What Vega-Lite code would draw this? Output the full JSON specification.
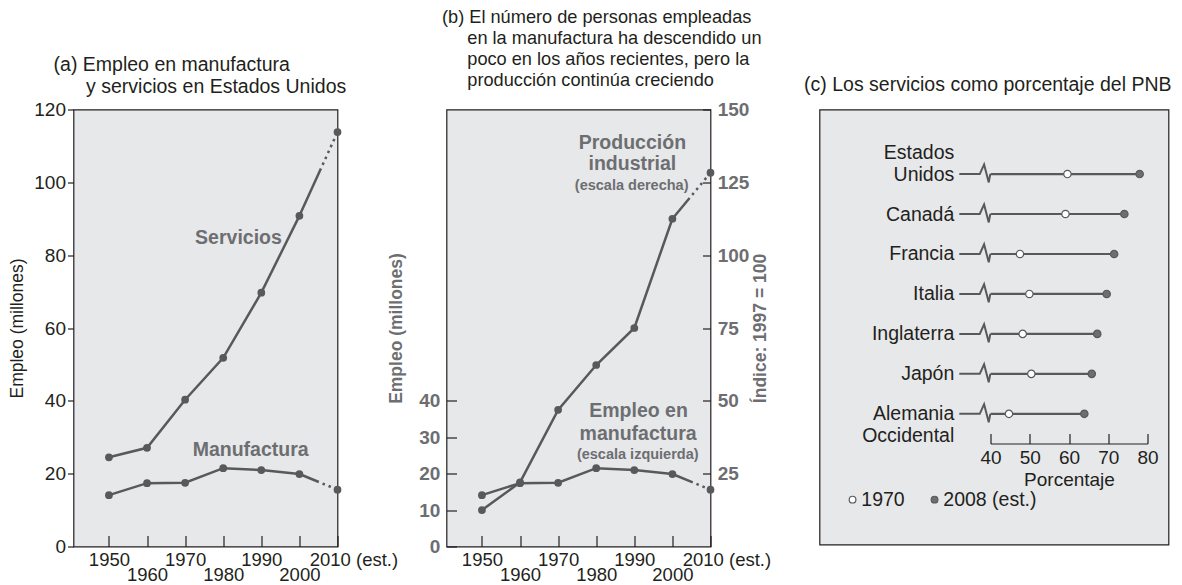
{
  "$schema": "https://vega.github.io/schema/vega-lite/v6.json",
  "background": "white",
  "padding": {"left": 7.5, "top": 7.5, "right": 5, "bottom": 0},
  "bounds": "flush",
  "spacing": 109,
  "config": {
    "font": "Liberation Sans",
    "view": {"fill": "#e7e8ea", "stroke": "#231f20", "strokeWidth": 1.2},
    "axis": {"grid": false, "domain": false, "labelFont": "Liberation Sans", "titleFont": "Liberation Sans", "labelColor": "#231f20", "titleColor": "#231f20", "tickColor": "#231f20", "labelFontSize": 19, "titleFontSize": 17.5, "titleFontWeight": "normal", "tickWidth": 1.2},
    "title": {"font": "Liberation Sans", "fontSize": 19.5, "fontWeight": "normal", "color": "#231f20", "anchor": "start", "frame": "group", "lineHeight": 22},
    "text": {"font": "Liberation Sans"}
  },
  "datasets": {
    "series": [
      {"serie": "Servicios", "anio": 1950, "valor": 24.5},
      {"serie": "Servicios", "anio": 1960, "valor": 27.1},
      {"serie": "Servicios", "anio": 1970, "valor": 40.3},
      {"serie": "Servicios", "anio": 1980, "valor": 51.8},
      {"serie": "Servicios", "anio": 1990, "valor": 69.7},
      {"serie": "Servicios", "anio": 2000, "valor": 90.8},
      {"serie": "Servicios", "anio": 2010, "valor": 113.8},
      {"serie": "Manufactura", "anio": 1950, "valor": 14.1},
      {"serie": "Manufactura", "anio": 1960, "valor": 17.4},
      {"serie": "Manufactura", "anio": 1970, "valor": 17.5},
      {"serie": "Manufactura", "anio": 1980, "valor": 21.5},
      {"serie": "Manufactura", "anio": 1990, "valor": 21.0},
      {"serie": "Manufactura", "anio": 2000, "valor": 19.9},
      {"serie": "Manufactura", "anio": 2010, "valor": 15.6},
      {"serie": "Producción", "anio": 1950, "valor": 12.5},
      {"serie": "Producción", "anio": 1960, "valor": 22.0},
      {"serie": "Producción", "anio": 1970, "valor": 46.9},
      {"serie": "Producción", "anio": 1980, "valor": 62.3},
      {"serie": "Producción", "anio": 1990, "valor": 75.0},
      {"serie": "Producción", "anio": 2000, "valor": 112.5},
      {"serie": "Producción", "anio": 2010, "valor": 128.3}
    ],
    "notas_a": [
      {"texto": "Servicios", "anio": 1984, "valor": 84.7},
      {"texto": "Manufactura", "anio": 1987.2, "valor": 26.6}
    ],
    "notas_b": [
      {"texto": "Producción", "anio": 1989.5, "valor": 110.9, "tipo": "principal"},
      {"texto": "industrial", "anio": 1989.5, "valor": 104.9, "tipo": "principal"},
      {"texto": "(escala derecha)", "anio": 1989.3, "valor": 99.1, "tipo": "nota"},
      {"texto": "Empleo en", "anio": 1991.1, "valor": 37.1, "tipo": "principal"},
      {"texto": "manufactura", "anio": 1991.0, "valor": 30.8, "tipo": "principal"},
      {"texto": "(escala izquierda)", "anio": 1990.9, "valor": 25.1, "tipo": "nota"}
    ],
    "pnb": [
      {"pais": "Estados Unidos", "serie": "1970", "valor": 59.6},
      {"pais": "Estados Unidos", "serie": "2008 (est.)", "valor": 78.0},
      {"pais": "Canadá", "serie": "1970", "valor": 59.1},
      {"pais": "Canadá", "serie": "2008 (est.)", "valor": 74.1},
      {"pais": "Francia", "serie": "1970", "valor": 47.5},
      {"pais": "Francia", "serie": "2008 (est.)", "valor": 71.5},
      {"pais": "Italia", "serie": "1970", "valor": 49.9},
      {"pais": "Italia", "serie": "2008 (est.)", "valor": 69.6},
      {"pais": "Inglaterra", "serie": "1970", "valor": 48.2},
      {"pais": "Inglaterra", "serie": "2008 (est.)", "valor": 67.2},
      {"pais": "Japón", "serie": "1970", "valor": 50.4},
      {"pais": "Japón", "serie": "2008 (est.)", "valor": 65.8},
      {"pais": "Alemania Occidental", "serie": "1970", "valor": 44.7},
      {"pais": "Alemania Occidental", "serie": "2008 (est.)", "valor": 63.9}
    ]
  },
  "hconcat": [
    {
      "width": 264,
      "height": 437,
      "title": {"text": ["(a) Empleo en manufactura", "\u200b\u00a0\u00a0\u00a0\u00a0\u00a0\u00a0y servicios en Estados Unidos"], "dx": -19.9, "offset": 3.5},
      "encoding": {
        "x": {"field": "anio", "type": "quantitative", "scale": {"domain": [1940.7, 2010], "nice": false, "zero": false},
          "axis": {"values": [1950, 1960, 1970, 1980, 1990, 2000, 2010], "title": null, "format": "d", "tickSize": -11, "labelPadding": 15, "labelOverlap": false, "labelFlush": false, "labelBound": false, "labelBaseline": "top", "labelFontSize": 18.5, "labelLineHeight": 15,
            "labelExpr": "datum.value % 20 == 0 ? ['', datum.label] : (datum.value == 2010 ? '2010 (est.)' : datum.label)",
            "labelAlign": {"condition": {"test": "datum.value == 2010", "value": "left"}, "value": "center"},
            "labelOffset": {"condition": {"test": "datum.value == 2010", "value": -28.3}, "value": 0}}},
        "y": {"field": "valor", "type": "quantitative", "scale": {"domain": [0, 120], "nice": false},
          "axis": {"values": [0, 20, 40, 60, 80, 100, 120], "title": "Empleo (millones)", "tickSize": 6, "labelPadding": 2, "titlePadding": 7.5}}
      },
      "layer": [
        {"data": {"name": "series"}, "transform": [{"filter": "datum.serie != 'Producción' && datum.anio <= 2000"}],
          "mark": {"type": "line", "color": "#58595b", "strokeWidth": 2.5}, "encoding": {"detail": {"field": "serie", "type": "nominal"}}},
        {"data": {"name": "series"}, "transform": [{"filter": "datum.serie == 'Servicios' && datum.anio >= 2000"}],
          "mark": {"type": "line", "color": "#58595b", "strokeWidth": 2.5, "strokeDash": [52, 4, 2.5, 4, 2.5, 4, 2.5, 4, 2.5, 4, 2.5, 4, 2.5, 4, 2.5, 4, 2.5, 4]}},
        {"data": {"name": "series"}, "transform": [{"filter": "datum.serie == 'Manufactura' && datum.anio >= 2000"}],
          "mark": {"type": "line", "color": "#58595b", "strokeWidth": 2.5, "strokeDash": [21, 4, 2.5, 4, 2.5, 4, 2.5, 4, 2.5, 4, 2.5, 4]}},
        {"data": {"name": "series"}, "transform": [{"filter": "datum.serie != 'Producción'"}],
          "mark": {"type": "point", "filled": true, "size": 60, "color": "#58595b", "opacity": 1}},
        {"data": {"name": "notas_a"}, "mark": {"type": "text", "fontSize": 19.5, "fontWeight": "bold", "color": "#6d6e71", "align": "center", "baseline": "middle"},
          "encoding": {"text": {"field": "texto", "type": "nominal"}}}
      ]
    },
    {
      "width": 264,
      "height": 437,
      "title": {"text": ["(b) El número de personas empleadas", "\u200b\u00a0\u00a0\u00a0\u00a0\u00a0en la manufactura ha descendido un", "\u200b\u00a0\u00a0\u00a0\u00a0\u00a0poco en los años recientes, pero la", "\u200b\u00a0\u00a0\u00a0\u00a0\u00a0producción continúa creciendo"], "fontSize": 18.2, "lineHeight": 21, "dx": -4.5, "offset": 10},
      "encoding": {
        "x": {"field": "anio", "type": "quantitative", "scale": {"domain": [1940.7, 2010], "nice": false, "zero": false},
          "axis": {"values": [1950, 1960, 1970, 1980, 1990, 2000, 2010], "title": null, "format": "d", "tickSize": -11, "labelPadding": 15, "labelOverlap": false, "labelFlush": false, "labelBound": false, "labelBaseline": "top", "labelFontSize": 18.5, "labelLineHeight": 15,
            "labelExpr": "datum.value % 20 == 0 ? ['', datum.label] : (datum.value == 2010 ? '2010 (est.)' : datum.label)",
            "labelAlign": {"condition": {"test": "datum.value == 2010", "value": "left"}, "value": "center"},
            "labelOffset": {"condition": {"test": "datum.value == 2010", "value": -28.3}, "value": 0}}}
      },
      "layer": [
        {
          "encoding": {"y": {"field": "valor", "type": "quantitative", "scale": {"domain": [0, 120], "nice": false},
            "axis": {"orient": "left", "values": [0, 10, 20, 30, 40], "title": "Empleo (millones)", "titleFontWeight": "bold", "titleColor": "#6d6e71", "labelColor": "#6d6e71", "labelFontWeight": "bold", "labelFontSize": 19, "tickSize": -10, "labelPadding": 16.7, "titlePadding": 13}}},
          "layer": [
            {"data": {"name": "series"}, "transform": [{"filter": "datum.serie == 'Manufactura' && datum.anio <= 2000"}],
              "mark": {"type": "line", "color": "#58595b", "strokeWidth": 2.5}},
            {"data": {"name": "series"}, "transform": [{"filter": "datum.serie == 'Manufactura' && datum.anio >= 2000"}],
              "mark": {"type": "line", "color": "#58595b", "strokeWidth": 2.5, "strokeDash": [22, 4, 2.5, 4, 2.5, 4, 2.5, 4, 2.5, 4, 2.5, 4]}},
            {"data": {"name": "series"}, "transform": [{"filter": "datum.serie == 'Manufactura'"}],
              "mark": {"type": "point", "filled": true, "size": 60, "color": "#58595b", "opacity": 1}},
            {"data": {"name": "notas_b"}, "transform": [{"filter": "datum.tipo == 'principal'"}],
              "mark": {"type": "text", "fontSize": 19.5, "fontWeight": "bold", "color": "#6d6e71", "align": "center", "baseline": "middle"},
              "encoding": {"text": {"field": "texto", "type": "nominal"}}},
            {"data": {"name": "notas_b"}, "transform": [{"filter": "datum.tipo == 'nota'"}],
              "mark": {"type": "text", "fontSize": 14.5, "fontWeight": "bold", "color": "#6d6e71", "align": "center", "baseline": "middle"},
              "encoding": {"text": {"field": "texto", "type": "nominal"}}}
          ]
        },
        {
          "encoding": {"y": {"field": "valor", "type": "quantitative", "scale": {"domain": [0, 150], "nice": false},
            "axis": {"orient": "right", "values": [25, 50, 75, 100, 125, 150], "title": "Índice: 1997 = 100", "titleAngle": 270, "titleBaseline": "top", "titleFontWeight": "bold", "titleColor": "#6d6e71", "labelColor": "#6d6e71", "labelFontWeight": "bold", "labelFontSize": 19, "tickSize": -8, "labelPadding": 14.7, "titlePadding": 3}}},
          "layer": [
            {"data": {"name": "series"}, "transform": [{"filter": "datum.serie == 'Producción' && datum.anio <= 2000"}],
              "mark": {"type": "line", "color": "#58595b", "strokeWidth": 2.5}},
            {"data": {"name": "series"}, "transform": [{"filter": "datum.serie == 'Producción' && datum.anio >= 2000"}],
              "mark": {"type": "line", "color": "#58595b", "strokeWidth": 2.5, "strokeDash": [27, 4, 2.5, 4, 2.5, 4, 2.5, 4, 2.5, 4, 2.5, 4, 2.5, 4]}},
            {"data": {"name": "series"}, "transform": [{"filter": "datum.serie == 'Producción'"}],
              "mark": {"type": "point", "filled": true, "size": 60, "color": "#58595b", "opacity": 1}}
          ]
        }
      ],
      "resolve": {"scale": {"y": "independent"}}
    },
    {
      "width": 349,
      "height": 435,
      "title": {"text": "(c) Los servicios como porcentaje del PNB", "dx": -15.4, "offset": 14},
      "data": {"name": "pnb"},
      "encoding": {
        "y": {"field": "pais", "type": "nominal",
          "scale": {"type": "point", "domain": ["_1", "Estados Unidos", "Canadá", "Francia", "Italia", "Inglaterra", "Japón", "Alemania Occidental", "_2", "_3", "_4"], "padding": 0.4427, "align": 0.695},
          "axis": {"orient": "left", "offset": -134.3, "values": ["Estados Unidos", "Canadá", "Francia", "Italia", "Inglaterra", "Japón", "Alemania Occidental"], "ticks": false, "domain": false, "labelPadding": 0, "title": null, "labelFontSize": 19.5, "labelLineHeight": 21.4,
            "labelExpr": "datum.value == 'Estados Unidos' ? ['Estados', 'Unidos'] : datum.value == 'Alemania Occidental' ? ['Alemania', 'Occidental'] : datum.value",
            "labelOffset": {"condition": {"test": "datum.value == 'Estados Unidos'", "value": -21.4}, "value": 0}}}
      },
      "layer": [
        {"transform": [{"filter": "datum.serie == '1970'"}],
          "mark": {"type": "point", "shape": "M-1,0L0.32,0L0.6,-0.62L0.9,0.54L1,0", "filled": false, "color": "#58595b", "strokeWidth": 2, "strokeJoin": "miter", "size": 961, "opacity": 1},
          "encoding": {"x": {"datum": 36, "type": "quantitative"}}},
        {"transform": [{"filter": "datum.serie == '2008 (est.)'"}],
          "mark": {"type": "rule", "color": "#58595b", "strokeWidth": 2.2},
          "encoding": {"x": {"field": "valor", "type": "quantitative"}, "x2": {"datum": 40}}},
        {"mark": {"type": "point", "filled": true, "size": 55, "stroke": "#58595b", "strokeWidth": 1.2, "opacity": 1},
          "encoding": {
            "x": {"field": "valor", "type": "quantitative", "scale": {"domain": [40, 80], "range": [171, 328], "nice": false, "zero": false},
              "axis": {"orient": "bottom", "offset": -101, "values": [40, 50, 60, 70, 80], "format": "d", "domain": true, "domainColor": "#231f20", "domainWidth": 1.2, "tickSize": -10, "labelPadding": 15.1, "labelFontSize": 19, "labelFlush": false, "labelBound": false, "labelOverlap": false, "title": "Porcentaje", "titleFontSize": 19, "titlePadding": 3}},
            "fill": {"field": "serie", "type": "nominal", "scale": {"domain": ["1970", "2008 (est.)"], "range": ["#ffffff", "#6d6e71"]},
              "legend": {"orient": "none", "legendX": 769.3, "legendY": 380, "direction": "horizontal", "title": null, "padding": 0, "labelFontSize": 19.5, "labelFont": "Liberation Sans", "labelColor": "#231f20", "symbolSize": 45, "symbolType": "circle", "symbolStrokeColor": "#58595b", "symbolStrokeWidth": 1.2, "labelOffset": -1, "columnPadding": 20}}
          }}
      ]
    }
  ]
}
